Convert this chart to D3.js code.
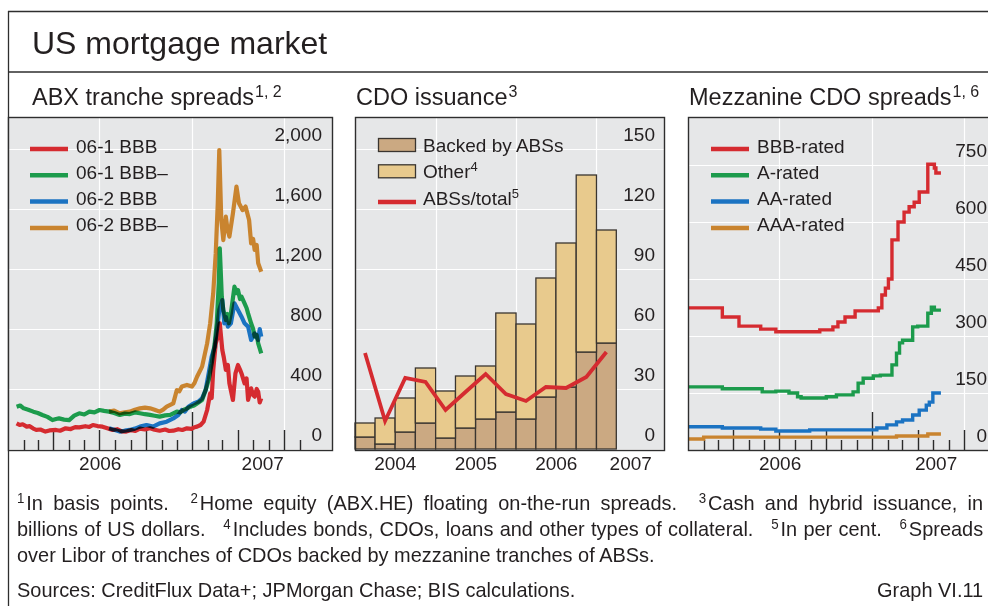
<!DOCTYPE html>
<html>
<head>
<meta charset="utf-8">
<script src="https://cdn.jsdelivr.net/npm/d3@7"></script>
<style>
  body { margin: 0; background: #fff; }
  #wrap { position: relative; width: 988px; height: 606px; overflow: hidden; }
  svg { position: absolute; left: 0; top: 0; font-family: "Liberation Sans", Arial, sans-serif; }
  .note { position: absolute; left: 17px; width: 1017px; transform: scaleX(0.95); transform-origin: 0 0;
          font-family: "Liberation Sans", Arial, sans-serif; font-size: 21px; line-height: 26px; color: #231f20; white-space: nowrap; }
  .just { text-align: justify; text-align-last: justify; white-space: normal; }
  .sup { font-size: 14px; position: relative; top: -7px; margin-right: 2px; }
  .gap { display: inline-block; width: 12px; }
</style>
</head>
<body>
<div id="wrap">
<svg id="chart" width="988" height="606"></svg>
</div>
<script>
const parseDate = d3.timeParse("%Y-%m-%d");

// ---- ABX tranche spreads (basis points)
const abxNames = ["06-1 BBB", "06-1 BBB–", "06-2 BBB", "06-2 BBB–"];
const abxColors = ["#d52b30", "#1c9b4c", "#1b73c2", "#c9842f"];
const abxTicks = [0, 400, 800, 1200, 1600, 2000];
const abxYears = [2006, 2007];

const abx061BBB = [
  ["2006-01-18",171],["2006-01-24",160],["2006-01-30",165],["2006-02-07",149],["2006-02-13",152],
  ["2006-02-20",136],["2006-02-26",127],["2006-03-06",130],["2006-03-16",116],["2006-03-24",124],
  ["2006-04-06",127],["2006-04-14",122],["2006-04-25",138],["2006-05-05",133],["2006-05-14",146],
  ["2006-05-22",144],["2006-06-03",152],["2006-06-11",147],["2006-06-18",160],["2006-06-27",153],
  ["2006-07-07",149],["2006-07-15",140],["2006-07-27",127],["2006-08-05",132],["2006-08-14",118],
  ["2006-08-23",116],["2006-09-02",126],["2006-09-10",120],["2006-09-19",136],["2006-09-29",130],
  ["2006-10-09",138],["2006-10-18",128],["2006-10-28",122],["2006-11-08",130],["2006-11-16",120],
  ["2006-11-24",122],["2006-12-04",132],["2006-12-12",127],["2006-12-21",138],["2006-12-30",134],
  ["2007-01-05",145],["2007-01-10",149],["2007-01-17",160],["2007-01-23",182],["2007-01-30",260],
  ["2007-02-05",371],["2007-02-08",340],["2007-02-11",527],["2007-02-16",704],["2007-02-20",749],
  ["2007-02-24",838],["2007-03-01",660],["2007-03-04",610],["2007-03-08",527],["2007-03-12",560],
  ["2007-03-15",438],["2007-03-22",327],["2007-03-27",504],["2007-04-01",560],["2007-04-05",530],
  ["2007-04-08",504],["2007-04-14",438],["2007-04-18",470],["2007-04-21",327],["2007-04-27",404],
  ["2007-05-01",360],["2007-05-04",349],["2007-05-08",400],["2007-05-11",382],["2007-05-14",310],
  ["2007-05-17",338]
];
const abx061BBBm = [
  ["2006-01-18",282],["2006-01-25",290],["2006-02-01",271],["2006-02-10",262],["2006-02-20",249],
  ["2006-03-01",240],["2006-03-10",227],["2006-03-20",214],["2006-03-30",193],["2006-04-06",200],
  ["2006-04-12",204],["2006-04-22",196],["2006-05-02",193],["2006-05-12",222],["2006-05-22",238],
  ["2006-06-01",230],["2006-06-11",249],["2006-06-21",244],["2006-07-01",260],["2006-07-10",254],
  ["2006-07-20",249],["2006-07-30",240],["2006-08-10",227],["2006-08-20",236],["2006-08-30",233],
  ["2006-09-09",244],["2006-09-19",238],["2006-09-29",232],["2006-10-09",227],["2006-10-18",222],
  ["2006-10-28",216],["2006-11-08",224],["2006-11-18",227],["2006-12-01",249],["2006-12-08",244],
  ["2006-12-14",260],["2006-12-21",270],["2006-12-28",282],["2007-01-04",290],["2007-01-10",304],
  ["2007-01-20",327],["2007-01-27",393],["2007-02-02",460],["2007-02-08",571],["2007-02-14",704],
  ["2007-02-18",838],["2007-02-22",1104],["2007-02-24",1338],["2007-02-28",1016],["2007-03-03",927],
  ["2007-03-08",860],["2007-03-11",900],["2007-03-14",838],["2007-03-18",904],["2007-03-25",1082],
  ["2007-03-29",1040],["2007-04-01",1060],["2007-04-05",1000],["2007-04-08",1016],["2007-04-14",971],
  ["2007-04-18",940],["2007-04-21",904],["2007-04-27",838],["2007-05-01",800],["2007-05-04",749],
  ["2007-05-08",760],["2007-05-11",704],["2007-05-17",638]
];
const abx062BBB = [
  ["2006-07-20",138],["2006-07-30",128],["2006-08-10",116],["2006-08-20",122],["2006-08-30",127],
  ["2006-09-09",136],["2006-09-19",149],["2006-10-02",160],["2006-10-15",149],["2006-10-28",171],
  ["2006-11-11",182],["2006-11-24",204],["2006-12-04",227],["2006-12-11",260],["2006-12-17",249],
  ["2006-12-24",282],["2007-01-03",304],["2007-01-13",316],["2007-01-20",338],["2007-01-27",393],
  ["2007-02-02",504],["2007-02-08",616],["2007-02-14",682],["2007-02-20",838],["2007-02-23",927],
  ["2007-03-01",993],["2007-03-05",838],["2007-03-08",880],["2007-03-12",816],["2007-03-18",838],
  ["2007-03-25",971],["2007-04-01",927],["2007-04-08",882],["2007-04-14",838],["2007-04-21",816],
  ["2007-04-27",727],["2007-05-04",771],["2007-05-11",727],["2007-05-14",800],["2007-05-17",749]
];
const abx062BBBm = [
  ["2006-07-20",249],["2006-07-30",256],["2006-08-10",238],["2006-08-20",244],["2006-08-30",249],
  ["2006-09-09",262],["2006-09-19",271],["2006-09-29",276],["2006-10-09",271],["2006-10-18",262],
  ["2006-10-28",249],["2006-11-04",262],["2006-11-11",282],["2006-11-24",304],["2006-12-01",393],
  ["2006-12-06",385],["2006-12-11",416],["2006-12-21",427],["2006-12-31",416],["2007-01-05",440],
  ["2007-01-10",482],["2007-01-20",549],["2007-01-30",704],["2007-02-05",838],["2007-02-11",1038],
  ["2007-02-16",1304],["2007-02-20",1638],["2007-02-23",1993],["2007-02-27",1527],["2007-03-03",1393],
  ["2007-03-08",1549],["2007-03-11",1470],["2007-03-15",1416],["2007-03-22",1571],["2007-03-29",1749],
  ["2007-04-03",1638],["2007-04-10",1593],["2007-04-16",1616],["2007-04-23",1527],["2007-04-27",1371],
  ["2007-05-01",1400],["2007-05-04",1327],["2007-05-08",1360],["2007-05-11",1238],["2007-05-17",1182]
];
const abxData = [abx061BBB, abx061BBBm, abx062BBB, abx062BBBm];

// ---- CDO issuance (USD bn, quarterly) and ABS share (per cent)
const cdoQuarters = ["2004-01-01","2004-04-01","2004-07-01","2004-10-01","2005-01-01","2005-04-01",
  "2005-07-01","2005-10-01","2006-01-01","2006-04-01","2006-07-01","2006-10-01","2007-01-01"];
const cdoBacked = [6, 2.5, 8.5, 13, 5.5, 10.5, 15, 18.5, 15, 26, 31, 48.5, 53];
const cdoOther  = [7, 13, 17, 27.5, 23.5, 26, 26.5, 49.5, 47.5, 59.5, 72, 88.5, 56.5];
const cdoShare  = [48, 14, 35.5, 33.5, 19.5, 28.5, 37.5, 27.5, 24, 31, 30.5, 36, 48.5];
const cdoNames = ["Backed by ABSs", "Other", "ABSs/total"];
const cdoNotes = ["", "4", "5"];
const cdoColors = ["#cba982", "#e8ca8d", "#d52b30"];
const cdoTicks = [0, 30, 60, 90, 120, 150];
const cdoYears = [2004, 2005, 2006, 2007];

// ---- Mezzanine CDO spreads (basis points, step series)
const mezzNames = ["BBB-rated", "A-rated", "AA-rated", "AAA-rated"];
const mezzColors = ["#d52b30", "#1c9b4c", "#1b73c2", "#c9842f"];
const mezzTicks = [0, 150, 300, 450, 600, 750];
const mezzYears = [2006, 2007];
const mezzBBB = [
  ["2006-01-01",374],["2006-03-10",350],["2006-04-12",326],["2006-05-25",318],["2006-06-24",311],
  ["2006-09-19",316],["2006-10-15",324],["2006-10-25",337],["2006-11-08",350],["2006-11-28",366],
  ["2007-01-13",374],["2007-01-20",408],["2007-01-27",426],["2007-02-02",450],["2007-02-09",553],
  ["2007-02-21",600],["2007-03-05",626],["2007-03-15",640],["2007-03-25",652],["2007-04-04",679],
  ["2007-04-21",752],["2007-05-04",742],["2007-05-07",729],["2007-05-17",729]
];
const mezzA = [
  ["2006-01-01",166],["2006-03-10",161],["2006-05-28",153],["2006-06-24",155],["2006-07-20",150],
  ["2006-08-06",140],["2006-08-13",137],["2006-10-02",140],["2006-10-22",145],["2006-11-24",153],
  ["2006-12-04",176],["2006-12-14",189],["2007-01-03",195],["2007-01-17",197],["2007-02-09",224],
  ["2007-02-18",255],["2007-02-24",282],["2007-03-02",289],["2007-03-22",324],["2007-04-01",326],
  ["2007-04-21",360],["2007-04-28",376],["2007-05-04",368],["2007-05-17",368]
];
const mezzAA = [
  ["2006-01-01",61],["2006-03-10",58],["2006-05-25",55],["2006-06-24",50],["2006-08-30",53],
  ["2007-01-10",58],["2007-01-30",66],["2007-02-18",74],["2007-03-02",79],["2007-03-22",92],
  ["2007-04-04",105],["2007-04-18",118],["2007-04-24",126],["2007-05-01",150],["2007-05-17",150]
];
const mezzAAA = [
  ["2006-01-01",29],["2006-02-01",34],["2007-02-18",37],["2007-04-21",42],["2007-05-17",42]
];
const mezzData = [mezzBBB, mezzA, mezzAA, mezzAAA];

// ---- layout
const svg = d3.select("#chart");
const ink = "#231f20", frameInk = "#2e2e2e", plotBg = "#e6e7e8";
const plotTop = 117, plotBottom = 450;

svg.append("line").attr("x1", 8.5).attr("x2", 8.5).attr("y1", 11).attr("y2", 606)
  .attr("stroke", frameInk).attr("stroke-width", 1.3);
svg.append("line").attr("x1", 8).attr("x2", 988).attr("y1", 11.5).attr("y2", 11.5)
  .attr("stroke", frameInk).attr("stroke-width", 1.3);
svg.append("line").attr("x1", 8).attr("x2", 988).attr("y1", 72).attr("y2", 72)
  .attr("stroke", frameInk).attr("stroke-width", 1.3);

svg.append("text").attr("x", 32).attr("y", 54)
  .style("font-size", "32px").attr("fill", ink)
  .text("US mortgage market");

function panelTitle(x, title, note) {
  const t = svg.append("text").attr("x", x).attr("y", 105)
    .style("font-size", "23.5px").attr("fill", ink).text(title);
  t.append("tspan").attr("dy", -8).attr("dx", 1).style("font-size", "16px").text(note);
}

function tickLen(d) {
  if (d.getMonth() === 0) return 38;
  if (d.getMonth() % 3 === 0) return 20;
  return 10;
}

function timeAxis(g, x, years, tickFrom, tickTo) {
  const months = d3.timeMonth.range(parseDate(tickFrom), parseDate(tickTo));
  if (months.length) {
    g.selectAll(null).data(months).join("line")
      .attr("x1", d => Math.round(x(d)) + 0.5).attr("x2", d => Math.round(x(d)) + 0.5)
      .attr("y1", d => plotBottom - tickLen(d)).attr("y2", plotBottom)
      .attr("stroke", "#2a2a2a").attr("stroke-width", 1.4);
  }
  const [d0, d1] = x.domain();
  g.selectAll(null).data(years).join("text")
    .attr("x", yr => {
      const a = d3.max([new Date(yr, 0, 1), d0]);
      const b = d3.min([new Date(yr + 1, 0, 1), d1]);
      return (x(a) + x(b)) / 2;
    })
    .attr("y", 470)
    .attr("text-anchor", "middle")
    .style("font-size", "19px").attr("fill", ink)
    .text(yr => yr);
}

function panel(x0, x1, x, y, yTicks, vGrid) {
  const g = svg.append("g");
  g.append("rect").attr("x", x0).attr("y", plotTop).attr("width", x1 - x0)
    .attr("height", plotBottom - plotTop).attr("fill", plotBg);
  g.selectAll(null).data(yTicks).join("line")
    .attr("x1", x0).attr("x2", x1)
    .attr("y1", d => Math.round(y(d)) + 0.5).attr("y2", d => Math.round(y(d)) + 0.5)
    .attr("stroke", "#fff").attr("stroke-width", 1.2);
  g.selectAll(null).data(vGrid.map(parseDate)).join("line")
    .attr("x1", d => Math.round(x(d)) + 0.5).attr("x2", d => Math.round(x(d)) + 0.5)
    .attr("y1", plotTop).attr("y2", plotBottom)
    .attr("stroke", "#fff").attr("stroke-width", 1.2);
  return g;
}

function yLabels(g, xRight, y, yTicks, fmt) {
  g.selectAll(null).data(yTicks).join("text")
    .attr("x", xRight).attr("y", d => y(d) - 8)
    .attr("text-anchor", "end")
    .style("font-size", "19px").attr("fill", ink)
    .text(fmt);
}

function border(x0, x1) {
  svg.append("rect").attr("x", x0 + 0.5).attr("y", plotTop + 0.5)
    .attr("width", x1 - x0 - 1).attr("height", plotBottom - plotTop)
    .attr("fill", "none").attr("stroke", frameInk).attr("stroke-width", 1.4);
}

function lineLegend(g, x, yLine, names, colors) {
  names.forEach((n, i) => {
    g.append("line").attr("x1", x).attr("x2", x + 38)
      .attr("y1", yLine + i * 26.3).attr("y2", yLine + i * 26.3)
      .attr("stroke", colors[i]).attr("stroke-width", 4.5);
    g.append("text").attr("x", x + 46).attr("y", yLine + i * 26.3 + 3.5)
      .style("font-size", "19px").attr("fill", ink).text(n);
  });
}

// ---- panel 1: ABX
{
  const x0 = 8, x1 = 333;
  const x = d3.scaleTime().domain([parseDate("2006-01-01"), parseDate("2007-10-06")]).range([x0, x1]);
  const y = d3.scaleLinear().domain([0, 2000]).range([449, 149]);
  const g = panel(x0, x1, x, y, abxTicks, ["2006-07-01", "2007-01-01", "2007-07-01"]);
  timeAxis(g, x, abxYears, "2006-02-01", "2007-09-01");
  const line = d3.line().x(d => x(parseDate(d[0]))).y(d => y(d[1]));
  const lines = g.append("g").style("isolation", "isolate");
  lines.selectAll(null).data(abxData).join("path")
    .attr("d", line)
    .attr("fill", "none")
    .attr("stroke", (d, i) => abxColors[i])
    .attr("stroke-width", 4.2)
    .attr("stroke-linejoin", "round")
    .style("mix-blend-mode", "multiply");
  yLabels(g, x1 - 11, y, abxTicks, d3.format(","));
  lineLegend(g, 30, 149, abxNames, abxColors);
  border(x0, x1);
  panelTitle(32, "ABX tranche spreads", "1, 2");
}

// ---- panel 2: CDO issuance
{
  const x0 = 355, x1 = 665;
  const x = d3.scaleTime().domain([parseDate("2004-01-01"), parseDate("2007-11-08")]).range([x0, x1]);
  const y = d3.scaleLinear().domain([0, 150]).range([449, 149]);
  const g = panel(x0, x1, x, y, cdoTicks, ["2005-01-01", "2006-01-01", "2007-01-01"]);
  const rows = cdoQuarters.map((q, i) => ({
    q0: parseDate(q), q1: d3.timeMonth.offset(parseDate(q), 3),
    backed: cdoBacked[i], other: cdoOther[i], share: cdoShare[i]
  }));
  const stack = d3.stack().keys(["backed", "other"])(rows);
  g.selectAll(null).data(stack).join("g")
    .attr("fill", (d, i) => cdoColors[i])
    .selectAll("rect").data(d => d).join("rect")
      .attr("x", d => x(d.data.q0)).attr("width", d => x(d.data.q1) - x(d.data.q0))
      .attr("y", d => y(d[1])).attr("height", d => y(d[0]) - y(d[1]))
      .attr("stroke", "#3a3530").attr("stroke-width", 1.3);
  const mid = d => new Date((d.q0.getTime() + d.q1.getTime()) / 2);
  g.append("path").datum(rows)
    .attr("d", d3.line().x(d => x(mid(d))).y(d => y(d.share)))
    .attr("fill", "none").attr("stroke", cdoColors[2]).attr("stroke-width", 3.8)
    .attr("stroke-linejoin", "miter");
  timeAxis(g, x, cdoYears, "2004-01-01", "2004-01-01");
  yLabels(g, x1 - 10, y, cdoTicks, d => d);
  // legend
  [0, 1].forEach(i => {
    g.append("rect").attr("x", 378.5).attr("y", 138.5 + i * 26.3).attr("width", 37).attr("height", 13)
      .attr("fill", cdoColors[i]).attr("stroke", "#3a3530").attr("stroke-width", 1.3);
  });
  g.append("line").attr("x1", 378).attr("x2", 416).attr("y1", 202).attr("y2", 202)
    .attr("stroke", cdoColors[2]).attr("stroke-width", 4.5);
  cdoNames.forEach((n, i) => {
    const t = g.append("text").attr("x", 423).attr("y", 152 + i * 26.3)
      .style("font-size", "19px").attr("fill", ink).text(n);
    if (cdoNotes[i]) t.append("tspan").attr("dy", -7).style("font-size", "13px").text(cdoNotes[i]);
  });
  border(x0, x1);
  panelTitle(356, "CDO issuance", "3");
}

// ---- panel 3: Mezzanine CDO spreads (runs past the right edge, as in the original)
{
  const x0 = 688, x1 = 1000;
  const x = d3.scaleTime().domain([parseDate("2006-01-01"), parseDate("2007-09-11")]).range([x0, x1]);
  const y = d3.scaleLinear().domain([0, 750]).range([450, 165]);
  const g = panel(x0, x1, x, y, mezzTicks, ["2006-07-01", "2007-01-01", "2007-07-01"]);
  timeAxis(g, x, mezzYears, "2006-02-01", "2007-08-01");
  const line = d3.line().x(d => x(parseDate(d[0]))).y(d => y(d[1])).curve(d3.curveStepAfter);
  g.selectAll(null).data(mezzData.slice().reverse()).join("path")
    .attr("d", line)
    .attr("fill", "none")
    .attr("stroke", (d, i) => mezzColors[mezzData.length - 1 - i])
    .attr("stroke-width", 3.4);
  yLabels(g, 987, y, mezzTicks, d => d);
  lineLegend(g, 711, 149, mezzNames, mezzColors);
  border(x0, x1);
  panelTitle(689, "Mezzanine CDO spreads", "1, 6");
}

// ---- footnotes
const wrap = d3.select("#wrap");
wrap.append("div").attr("class", "note just").style("top", "490px")
  .html('<span class="sup">1</span>In basis points.<span class="gap"></span> <span class="sup">2</span>Home equity (ABX.HE) floating on-the-run spreads.<span class="gap"></span> <span class="sup">3</span>Cash and hybrid issuance, in');
wrap.append("div").attr("class", "note just").style("top", "516px")
  .html('billions of US dollars.<span class="gap"></span> <span class="sup">4</span>Includes bonds, CDOs, loans and other types of collateral.<span class="gap"></span> <span class="sup">5</span>In per cent.<span class="gap"></span> <span class="sup">6</span>Spreads');
wrap.append("div").attr("class", "note").style("top", "542px")
  .text("over Libor of tranches of CDOs backed by mezzanine tranches of ABSs.");
wrap.append("div").attr("class", "note").style("top", "577px")
  .text("Sources: CreditFlux Data+; JPMorgan Chase; BIS calculations.");
wrap.append("div").attr("class", "note").style("top", "577px").style("text-align", "right")
  .text("Graph VI.11");
</script>
</body>
</html>
